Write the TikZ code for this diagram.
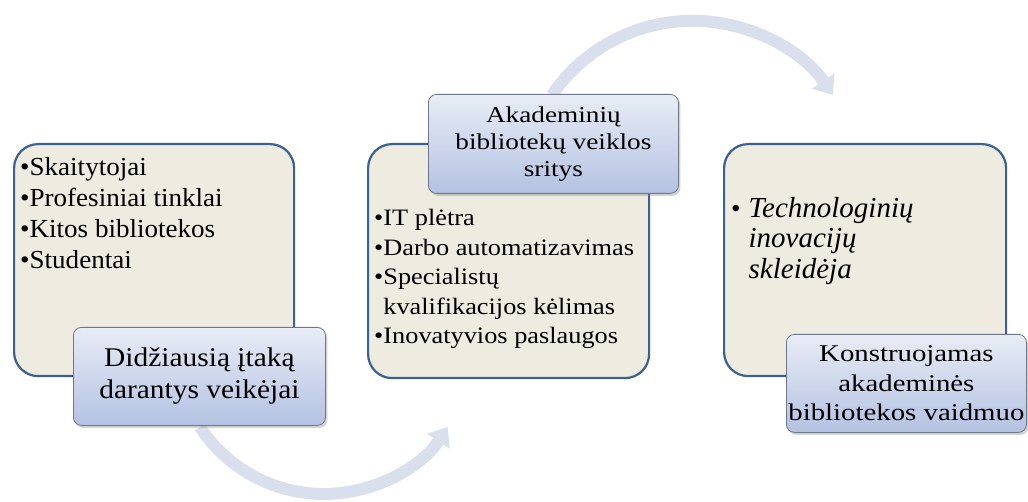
\documentclass[tikz,border=0pt]{standalone}
\usepackage{fontspec}
\setmainfont{Liberation Serif}
\newfontfamily\slightfont[FakeStretch=1.04]{Liberation Serif}
\newfontfamily\labfont[FakeStretch=1.09]{Liberation Serif}
\newfontfamily\widefont[FakeStretch=1.12]{Liberation Serif}
\newfontfamily\widerfont[FakeStretch=1.2]{Liberation Serif}
\usetikzlibrary{arrows.meta,shadows}
\definecolor{beige}{HTML}{EEECE1}
\definecolor{boxborder}{HTML}{3B6190}
\definecolor{labtop}{HTML}{E8ECF6}
\definecolor{labbot}{HTML}{B4C2E2}
\definecolor{labborder}{HTML}{6E7888}
\definecolor{arrowcol}{HTML}{D9DFED}
\begin{document}
\begin{tikzpicture}[x=1pt,y=-1pt,
  areabox/.style={draw=boxborder, line width=2.2pt, fill=beige, rounded corners=24pt,
    anchor=north west, inner sep=0pt},
  labelbox/.style={draw=labborder, line width=0.8pt, rounded corners=8pt,
    top color=labtop, bottom color=labbot, anchor=north west, inner sep=0pt,
    align=center, text=black,
    drop shadow={opacity=0.35, shadow xshift=2pt, shadow yshift=-2.5pt}},
  itemtext/.style={anchor=north west, inner sep=0pt, align=left, text=black},
  bigarrow/.style={draw=arrowcol, line width=12pt,
    -{Triangle[width=26pt,length=17pt]}}
]
\useasboundingbox (0,0) rectangle (1028,502);
\fill[white] (0,0) rectangle (1028,502);

% curved arrows
\coordinate (a1s) at (200,427);
\draw[bigarrow] (a1s) arc[start angle=146.8, end angle=33.2, radius=148];
\coordinate (a2s) at (552,95);
\draw[bigarrow] (a2s) arc[start angle=214.3, end angle=325.7, radius=170];

% beige area boxes
\node[areabox, minimum width=280pt, minimum height=232pt] (b1) at (13,143) {};
\node[areabox, minimum width=281pt, minimum height=234pt] (b2) at (367,143) {};
\node[areabox, minimum width=282pt, minimum height=232pt] (b3) at (723,143) {};

% box texts
\node[itemtext, font=\slightfont\fontsize{26}{31}\selectfont] (t1) at (20,157.5)
  {•Skaitytojai\\•Profesiniai tinklai\\•Kitos bibliotekos\\•Studentai};
\node[itemtext, font=\widefont\fontsize{23.5}{29.6}\selectfont] (t2) at (374,209)
  {•IT plėtra\\•Darbo automatizavimas\\•Specialistų\\\hphantom{•}kvalifikacijos kėlimas\\•Inovatyvios paslaugos};
\node[itemtext, font=\fontsize{29}{30.5}\selectfont] (t3) at (731,197)
  {{\fontsize{27}{30.5}\selectfont •}\hspace{8pt}\textit{Technologinių}\\
   \hphantom{{\fontsize{27}{30.5}\selectfont •}\hspace{8pt}}\textit{inovacijų}\\
   \hphantom{{\fontsize{27}{30.5}\selectfont •}\hspace{8pt}}\textit{skleidėja}};

% blue label boxes
\node[labelbox, minimum width=252pt, minimum height=98pt,
  font=\labfont\fontsize{27}{32}\selectfont] (l1) at (73,327)
  {Didžiausią įtaką\\darantys veikėjai};
\node[labelbox, minimum width=250pt, minimum height=99pt,
  font=\widerfont\fontsize{22.7}{27}\selectfont] (l2) at (428,94)
  {Akademinių\\bibliotekų veiklos\\sritys};
\node[labelbox, minimum width=240pt, minimum height=98pt,
  font=\widerfont\fontsize{24}{29.5}\selectfont] (l3) at (786,334)
  {Konstruojamas\\akademinės\\bibliotekos vaidmuo};
\end{tikzpicture}
\end{document}
